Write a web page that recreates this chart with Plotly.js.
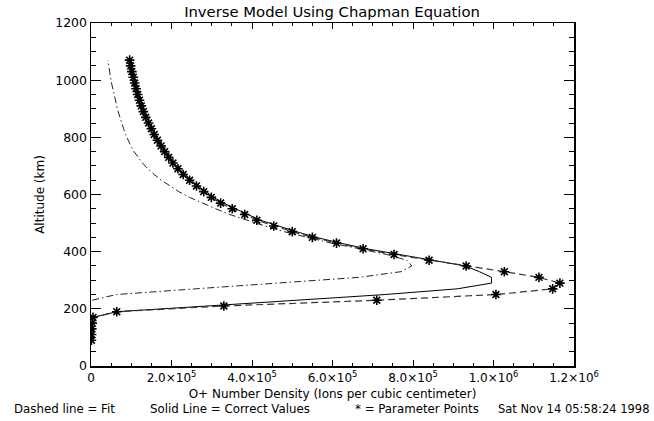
<!DOCTYPE html>
<html>
<head>
<meta charset="utf-8">
<script src="https://cdn.plot.ly/plotly-3.0.1.min.js"></script>
<style>html,body{margin:0;padding:0;background:#fff;}#chart{width:654px;height:421px;}</style>
</head>
<body>
<div id="chart"></div>
<script>
// Altitude grid (km)
const altitude = [90,110,130,150,170,190,210,230,250,270,290,310,330,350,370,390,410,430,450,470,490,510,530,550,570,590,610,630,650,670,690,710,730,750,770,790,810,830,850,870,890,910,930,950,970,990,1010,1030,1050,1070];

// Fit (dashed line) and parameter points (asterisks), ions per cubic centimeter
const fitDensity = [1000,1500,2000,3000,5000,64000,330000,710000,1006000,1147000,1165000,1113000,1027000,932000,840000,753000,676000,610000,550000,500000,454000,412000,382000,351000,322000,299000,280000,262000,245000,229000,216000,203500,193000,183000,174000,165000,157000,150000,143000,136000,130000,125000,120500,116000,112000,108500,105000,101500,98500,96000];

// Correct values (solid line)
const correctDensity = [500,1000,1500,2500,5000,64000,290000,520000,730000,910000,995000,995000,965000,930000,848000,762000,685000,619000,560000,510000,463000,421000,390000,358000,329000,305000,285000,266000,249000,233000,219000,206500,196000,186000,176500,167500,159500,152000,145000,138000,132000,127000,122000,117500,113500,110000,106500,103000,100000,97500];

// Dash-dot curve
const dashDotAltitude = [230,250,270,290,310,330,350,370,390,410,430,450,470,490,510,530,550,570,590,610,630,650,670,690,710,730,750,770,790,810,830,850,870,890,910,930,950,970,990,1010,1030,1050,1070];
const dashDotDensity = [3000,63000,260000,470000,665000,770000,797000,785000,735000,668000,597000,538000,480000,432000,388000,345000,310000,278000,245000,218000,195000,175000,157000,141000,128000,117000,107000,99000,92000,86000,81000,76000,71500,67500,64000,60500,57000,54000,51000,48500,46000,44000,42000];

// Axis ticks
const xTickVals = [0,200000,400000,600000,800000,1000000,1200000];
const xTickText = ['0','2.0×10<sup>5</sup>','4.0×10<sup>5</sup>','6.0×10<sup>5</sup>','8.0×10<sup>5</sup>','1.0×10<sup>6</sup>','1.2×10<sup>6</sup>'];
const yTickVals = [0,200,400,600,800,1000,1200];

// Texts
const titleText = 'Inverse Model Using Chapman Equation';
const xTitle = 'O+ Number Density (Ions per cubic centimeter)';
const yTitle = 'Altitude (km)';
const footer = ['Dashed line = Fit','Solid Line = Correct Values','* = Parameter Points','Sat Nov 14 05:58:24 1998'];

const FONT = 'DejaVu Sans, Verdana, sans-serif';
const W = 654, H = 421;
const M = {l:91, r:80, t:23, b:55};
const pw = W - M.l - M.r, ph = H - M.t - M.b;
const px = x => (x - M.l) / pw;
const py = y => (H - M.b - y) / ph;

const traces = [
  {x: correctDensity, y: altitude, mode:'lines', line:{color:'#000', width:1}, hoverinfo:'skip', showlegend:false},
  {x: fitDensity, y: altitude, mode:'lines', line:{color:'#333', width:1.2, dash:'7px,4px'}, showlegend:false},
  {x: dashDotDensity, y: dashDotAltitude, mode:'lines', line:{color:'#222', width:1, dash:'7px,3px,1.5px,3px'}, showlegend:false},
  {x: fitDensity, y: altitude, mode:'markers', marker:{symbol:'asterisk-open', size:8, color:'#000', line:{color:'#000', width:1.6}}, showlegend:false}
];

const layout = {
  width: W, height: H,
  margin: M,
  paper_bgcolor:'#fff', plot_bgcolor:'#fff',
  font:{family: FONT, size:12, color:'#000'},
  title:{text:titleText, font:{family:FONT, size:14.8, color:'#000'}, x:px(332), xanchor:'center', xref:'paper', y:1-12/H, yanchor:'middle', yref:'container'},
  xaxis:{
    range:[0,1200000], showgrid:false, zeroline:false,
    showline:true, linecolor:'#000', linewidth:1.5, mirror:'ticks',
    ticks:'inside', ticklen:6, tickwidth:1, tickcolor:'#000',
    tickmode:'array', tickvals:xTickVals, ticktext:xTickText,
    tickfont:{family:FONT, size:12, color:'#000'},
    minor:{dtick:50000, tick0:0, ticks:'inside', ticklen:3, tickwidth:1, tickcolor:'#000', showgrid:false},
    title:{text:xTitle, font:{family:FONT, size:12, color:'#000'}, standoff:5}
  },
  yaxis:{
    range:[0,1200], showgrid:false, zeroline:false,
    showline:true, linecolor:'#000', linewidth:1.5, mirror:'ticks',
    ticks:'inside', ticklen:10, tickwidth:1, tickcolor:'#000',
    tickmode:'array', tickvals:yTickVals,
    tickfont:{family:FONT, size:12.5, color:'#000'},
    minor:{dtick:50, tick0:0, ticks:'inside', ticklen:5, tickwidth:1, tickcolor:'#000', showgrid:false},
    title:{text:yTitle, font:{family:FONT, size:12, color:'#000'}, standoff:8}
  },
  annotations:[
    {text:footer[0], xref:'paper', yref:'paper', x:px(12), y:py(409), xanchor:'left', yanchor:'middle', showarrow:false, font:{family:FONT, size:11.8, color:'#000'}},
    {text:footer[1], xref:'paper', yref:'paper', x:px(148), y:py(409), xanchor:'left', yanchor:'middle', showarrow:false, font:{family:FONT, size:11.8, color:'#000'}},
    {text:footer[2], xref:'paper', yref:'paper', x:px(353), y:py(409), xanchor:'left', yanchor:'middle', showarrow:false, font:{family:FONT, size:11.8, color:'#000'}},
    {text:footer[3], xref:'paper', yref:'paper', x:px(651), y:py(409), xanchor:'right', yanchor:'middle', showarrow:false, font:{family:FONT, size:11.5, color:'#000'}}
  ]
};

Plotly.newPlot('chart', traces, layout, {displayModeBar:false, staticPlot:true});
</script>
</body>
</html>
